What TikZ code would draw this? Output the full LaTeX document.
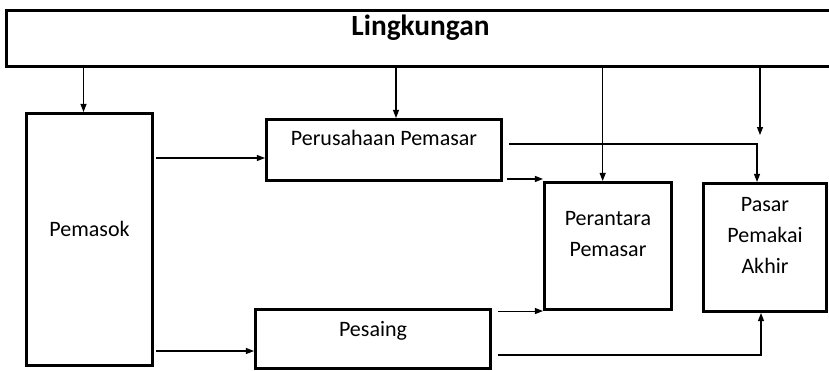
\documentclass[tikz,border=0pt]{standalone}
\usepackage{fontspec}
\setmainfont{Carlito}
\usetikzlibrary{arrows.meta, positioning, calc}

\begin{document}
\begin{tikzpicture}[x=0.75pt, y=-0.75pt,
    box/.style={draw, rectangle, line width=2.3pt, inner sep=0pt, align=center, text height=10.6pt, font=\fontsize{16.5}{23.25}\selectfont},
    arr/.style={-{Triangle[length=6pt, width=4.5pt]}, line width=0.8pt}]
    \useasboundingbox (0,0) rectangle (829,371);

    % Lingkungan
    \node[box, minimum width=621pt, minimum height=42pt, text height=14pt, text depth=18.75pt, font=\bfseries\fontsize{22}{26}\selectfont] (lk) at (420.5,38.5) {Lingkungan};

    % Pemasok
    \node[box, minimum width=94.5pt, minimum height=189pt, text depth=15.75pt] (pm) at (89.5,239.5) {Pemasok};

    % Perusahaan Pemasar
    \node[box, minimum width=176.25pt, minimum height=45.75pt, text depth=17.5pt] (ps) at (384,150) {Perusahaan Pemasar};

    % Pesaing
    \node[box, minimum width=176.25pt, minimum height=44.25pt, text depth=15pt] (pe) at (373,339) {Pesaing};

    % Perantara Pemasar
    \node[box, minimum width=95.25pt, minimum height=95.25pt, text height=33.85pt, text depth=17.7pt] (pr) at (608,246) {Perantara\\Pemasar};

    % Pasar Pemakai Akhir
    \node[box, minimum width=92.25pt, minimum height=96pt, text height=57.1pt, text depth=18pt] (pa) at (765,247.5) {Pasar\\Pemakai\\Akhir};

    \coordinate (lkend) at (760,135);

    % from Lingkungan
    \draw[arr] ([xshift=-4.5pt]pm.north |- lk.south) -- ([xshift=-4.5pt]pm.north);
    \draw[arr] ([xshift=9pt]ps.north |- lk.south) -- ([xshift=9pt]ps.north);
    \draw[arr] ([xshift=-4pt]pr.north |- lk.south) -- ([xshift=-4pt]pr.north);
    \draw[arr] (lkend |- lk.south) -- (lkend);

    % from Pemasok
    \draw[arr] ($(pm.east |- ps.west)+(2,8)$) -- ($(ps.west)+(0,8)$);
    \draw[arr] ($(pm.east |- pe.west)+(2,12)$) -- ($(pe.west)+(0,12)$);

    % from Perusahaan Pemasar
    \draw[arr] ($(ps.east |- pr.north west)+(4,-2)$) -- ($(pr.north west)+(0,-2)$);
    \draw[arr] ($(ps.east)+(6,-6)$) -| ($(pa.north)+(-8,0)$);

    % from Pesaing
    \draw[arr] ($(pe.east |- pr.south west)+(6,0)$) -- (pr.south west);
    \draw[arr] ($(pe.east)+(6,16)$) -| ($(pa.south)+(-4,0)$);
\end{tikzpicture}
\end{document}
